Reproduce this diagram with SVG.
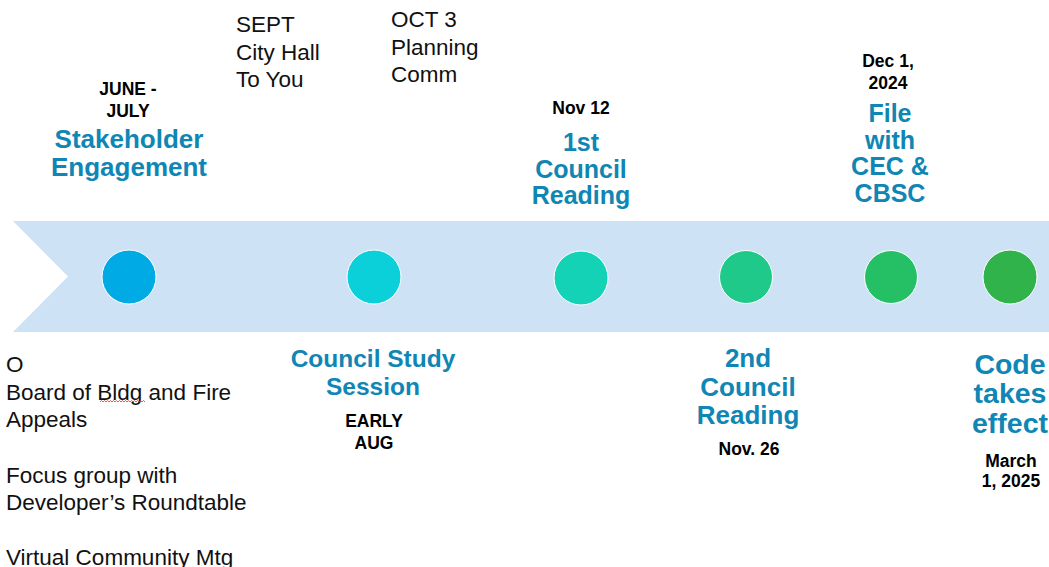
<svg xmlns="http://www.w3.org/2000/svg" width="1049" height="567" viewBox="0 0 1049 567">
<style>
text{font-family:"Liberation Sans",Arial,sans-serif}
.t{font-size:26px;font-weight:bold;fill:#0f86b4;text-anchor:middle}
.s{font-size:25px}
.d{font-size:17.5px;font-weight:bold;fill:#000;text-anchor:middle}
.r{font-size:22.5px;fill:#111}
.dot{stroke:#ffffff;stroke-width:1}
</style>
<rect width="1049" height="567" fill="#ffffff"/>
<g id="timeline">
<path d="M13,221 L1049,221 L1049,332 L13,332 L68,276.5 Z" fill="#cde2f5"/>
</g>
<g id="connectors"></g>
<g id="stakeholder">
<circle class="dot" cx="129" cy="277" r="27" fill="#00abe5"/>
<text class="d" x="128" y="95">JUNE -</text>
<text class="d" x="128" y="117">JULY</text>
<text class="t" x="129" y="148">Stakeholder</text>
<text class="t" x="129" y="176">Engagement</text>
</g>
<g id="sept">
<text class="r" x="236" y="32">SEPT</text>
<text class="r" x="236" y="60">City Hall</text>
<text class="r" x="236" y="87">To You</text>
</g>
<g id="oct">
<text class="r" x="391" y="27">OCT 3</text>
<text class="r" x="391" y="55">Planning</text>
<text class="r" x="391" y="82">Comm</text>
</g>
<g id="study-session">
<circle class="dot" cx="374" cy="277" r="27" fill="#0bd0da"/>
<text class="t" x="373" y="367" style="font-size:24.5px">Council Study</text>
<text class="t" x="373" y="395" style="font-size:24.5px">Session</text>
<text class="d" x="374" y="427">EARLY</text>
<text class="d" x="374" y="449">AUG</text>
</g>
<g id="first-reading">
<circle class="dot" cx="581" cy="278" r="27" fill="#13d2b5"/>
<text class="d" x="581" y="114">Nov 12</text>
<text class="t s" x="581" y="151">1st</text>
<text class="t s" x="581" y="178">Council</text>
<text class="t s" x="581" y="204">Reading</text>
</g>
<g id="second-reading">
<circle class="dot" cx="746" cy="277" r="26.5" fill="#1ec98a"/>
<text class="t" x="748" y="367">2nd</text>
<text class="t" x="748" y="396">Council</text>
<text class="t" x="748" y="424">Reading</text>
<text class="d" x="749" y="455">Nov. 26</text>
</g>
<g id="file-cec">
<circle class="dot" cx="891" cy="277" r="26.5" fill="#25bf65"/>
<text class="d" x="888" y="67">Dec 1,</text>
<text class="d" x="888" y="89">2024</text>
<text class="t s" x="890" y="122">File</text>
<text class="t s" x="890" y="149">with</text>
<text class="t s" x="890" y="175">CEC &amp;</text>
<text class="t s" x="890" y="202">CBSC</text>
</g>
<g id="code-effect">
<circle class="dot" cx="1010" cy="277" r="27" fill="#30b34b"/>
<text class="t" x="1010" y="374" style="font-size:28.5px">Code</text>
<text class="t" x="1010" y="403" style="font-size:28.5px">takes</text>
<text class="t" x="1010" y="433" style="font-size:28.5px">effect</text>
<text class="d" x="1011" y="467">March</text>
<text class="d" x="1011" y="487">1, 2025</text>
</g>
<g id="stakeholder-notes">
<text class="r" x="6" y="372">O</text>
<text class="r" x="6" y="400">Board of Bldg and Fire</text>
<text class="r" x="6" y="427">Appeals</text>
<text class="r" x="6" y="483">Focus group with</text>
<text class="r" x="6" y="510">Developer’s Roundtable</text>
<text class="r" x="6" y="565">Virtual Community Mtg</text>
<path d="M100,402 l1.5,-1.5 l1.5,1.5 l1.5,-1.5 l1.5,1.5 l1.5,-1.5 l1.5,1.5 l1.5,-1.5 l1.5,1.5 l1.5,-1.5 l1.5,1.5 l1.5,-1.5 l1.5,1.5 l1.5,-1.5 l1.5,1.5 l1.5,-1.5 l1.5,1.5 l1.5,-1.5 l1.5,1.5 l1.5,-1.5 l1.5,1.5 l1.5,-1.5 l1.5,1.5 l1.5,-1.5 l1.5,1.5 l1.5,-1.5 l1.5,1.5 l1.5,-1.5 l1.5,1.5 l1.5,-1.5 l1.5,1.5" fill="none" stroke="#e03030" stroke-width="0.8"/>
</g>
</svg>
